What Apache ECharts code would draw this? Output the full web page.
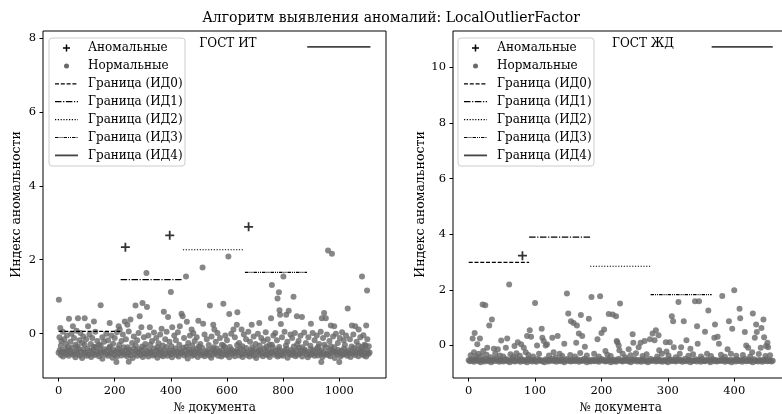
<!DOCTYPE html>
<html>
<head>
<meta charset="utf-8">
<title>LocalOutlierFactor</title>
<script src="https://cdn.jsdelivr.net/npm/echarts@6/dist/echarts.min.js"></script>
<style>
  html, body { margin: 0; padding: 0; background: #fff; }
  #chart { width: 782px; height: 414px; }
</style>
</head>
<body>
<div id="chart"></div>
<script>
const FONT = '"DejaVu Serif", "Liberation Serif", serif';

const chartTitle = "Алгоритм выявления аномалий: LocalOutlierFactor";
const panelTitles = ["ГОСТ ИТ", "ГОСТ ЖД"];
const xName = "№ документа";
const yName = "Индекс аномальности";
const legendNames = ["Аномальные", "Нормальные", "Граница (ИД0)", "Граница (ИД1)",
  "Граница (ИД2)", "Граница (ИД3)", "Граница (ИД4)"];

// ---- ГОСТ ИТ ----
const itXTicks = [0, 200, 400, 600, 800, 1000];
const itYTicks = [0, 2, 4, 6, 8];
const itAnomalies = [[238, 2.34], [396, 2.66], [677, 2.89]];
// [from doc, to doc, threshold] for ИД0..ИД4
const itBounds = [[0, 220, 0.06], [221, 438, 1.46], [443, 660, 2.27], [664, 885, 1.66], [886, 1111, 7.76]];
// dense band, one value every itBandStep documents
const itBandStep = 4;
const itBand = [
  -0.52,-0.45,-0.58,-0.48,-0.62,-0.50,-0.42,-0.56,-0.47,-0.60,
  -0.44,-0.53,-0.38,-0.57,-0.50,-0.64,-0.46,-0.55,-0.41,-0.59,
  -0.49,-0.66,-0.43,-0.54,-0.51,-0.60,-0.40,-0.57,-0.47,-0.63,
  -0.52,-0.44,-0.58,-0.36,-0.55,-0.48,-0.61,-0.45,-0.53,-0.68,
  -0.50,-0.42,-0.56,-0.47,-0.60,-0.39,-0.54,-0.50,-0.65,-0.44,
  -0.57,-0.48,-0.62,-0.41,-0.53,-0.46,-0.59,-0.50,-0.37,-0.56,
  -0.45,-0.61,-0.52,-0.43,-0.58,-0.49,-0.66,-0.40,-0.55,-0.47,
  -0.60,-0.50,-0.42,-0.57,-0.46,-0.63,-0.53,-0.38,-0.56,-0.48,
  -0.62,-0.44,-0.54,-0.50,-0.59,-0.41,-0.57,-0.47,-0.65,-0.52,
  -0.43,-0.58,-0.49,-0.61,-0.45,-0.55,-0.36,-0.60,-0.50,-0.46,
  -0.56,-0.64,-0.47,-0.52,-0.40,-0.58,-0.49,-0.62,-0.44,-0.54,
  -0.51,-0.38,-0.59,-0.46,-0.55,-0.67,-0.43,-0.53,-0.48,-0.60,
  -0.45,-0.57,-0.50,-0.41,-0.63,-0.52,-0.47,-0.58,-0.39,-0.55,
  -0.61,-0.48,-0.54,-0.44,-0.59,-0.50,-0.65,-0.42,-0.56,-0.49,
  -0.53,-0.40,-0.60,-0.47,-0.52,-0.62,-0.45,-0.57,-0.37,-0.51,
  -0.58,-0.46,-0.64,-0.50,-0.43,-0.55,-0.48,-0.61,-0.52,-0.44,
  -0.49,-0.59,-0.41,-0.56,-0.63,-0.47,-0.53,-0.39,-0.58,-0.50,
  -0.62,-0.45,-0.55,-0.48,-0.60,-0.42,-0.66,-0.51,-0.46,-0.57,
  -0.44,-0.53,-0.61,-0.40,-0.56,-0.49,-0.58,-0.45,-0.63,-0.52,
  -0.50,-0.38,-0.57,-0.47,-0.54,-0.62,-0.43,-0.59,-0.48,-0.55,
  -0.60,-0.46,-0.52,-0.41,-0.65,-0.50,-0.56,-0.44,-0.58,-0.49,
  -0.53,-0.61,-0.45,-0.57,-0.39,-0.54,-0.48,-0.62,-0.51,-0.43,
  -0.47,-0.56,-0.64,-0.50,-0.58,-0.42,-0.55,-0.46,-0.60,-0.52,
  -0.40,-0.59,-0.49,-0.55,-0.45,-0.63,-0.51,-0.57,-0.37,-0.54,
  -0.58,-0.47,-0.61,-0.43,-0.52,-0.48,-0.66,-0.50,-0.56,-0.44,
  -0.51,-0.62,-0.46,-0.57,-0.41,-0.55,-0.49,-0.60,-0.45,-0.53,
  -0.63,-0.48,-0.54,-0.39,-0.58,-0.50,-0.44,-0.61,-0.52,-0.47,
  -0.56,-0.43,-0.59,-0.50,-0.62,-0.46,-0.55,-0.51
];
// normal documents standing out of the band
const itScatter = [
  [1,0.92],[6,0.15],[37,0.4],[51,0.2],[69,0.42],[93,0.42],[105,0.2],[126,0.33],[150,0.77],[182,0.29],
  [214,0.2],[218,0.11],[236,0.33],[245,0.24],[256,0.38],[274,0.76],[289,0.47],[295,0.17],[299,0.83],[313,1.64],
  [315,0.72],[325,0.17],[367,0.13],[375,0.59],[390,0.45],[400,1.13],[405,0.17],[432,0.2],[438,0.54],[442,0.47],
  [454,1.55],[457,0.32],[474,0.11],[498,0.35],[513,1.79],[515,0.27],[539,0.76],[551,0.24],[555,0.11],[587,0.81],
  [605,2.09],[608,0.53],[623,0.11],[635,0.24],[637,0.58],[652,0.11],[688,0.24],[715,0.29],[757,0.42],[760,1.32],
  [780,0.95],[785,1.12],[787,0.63],[789,0.51],[792,0.26],[801,1.55],[811,0.51],[820,0.62],[837,1.0],[849,0.47],
  [867,0.45],[899,0.27],[938,0.42],[946,0.56],[952,0.42],[960,2.25],[970,0.22],[974,2.16],[982,0.2],[1030,0.68],
  [1045,0.22],[1057,0.2],[1069,0.11],[1081,1.55],[1096,0.22],[1099,1.17],
  [206,-0.77],[250,-0.76],[936,-0.77],[1000,-0.77]
];
const itLow = [
  [3,-0.1],[10,-0.2],[15,0.05],[20,-0.15],[26,-0.28],[30,-0.05],[42,-0.22],[46,0.0],[55,-0.12],[60,-0.3],
  [64,0.08],[74,-0.18],[78,0.02],[84,-0.25],[88,-0.08],[98,-0.15],[110,-0.02],[115,-0.28],[120,-0.12],[131,0.05],
  [138,-0.2],[144,-0.3],[156,-0.1],[162,-0.22],[170,0.0],[176,-0.18],[188,-0.05],[194,-0.27],[200,-0.12],[208,0.04],
  [224,-0.2],[229,-0.02],[240,-0.15],[250,0.06],[262,-0.25],[268,-0.08],[280,-0.18],[285,0.02],[304,-0.1],[309,-0.28],
  [320,-0.05],[333,-0.2],[340,0.03],[348,-0.12],[356,-0.26],[362,-0.02],[380,-0.15],[385,0.05],[395,-0.22],[412,-0.05],
  [418,-0.18],[425,0.04],[447,-0.12],[462,-0.25],[468,-0.05],[480,0.02],[485,-0.2],[492,-0.1],[505,-0.28],[520,-0.02],
  [528,-0.15],[545,-0.08],[560,-0.22],[566,0.02],[575,-0.12],[582,-0.3],[594,-0.05],[600,-0.18],[615,0.0],[628,-0.1],
  [643,-0.25],[660,-0.02],[668,-0.15],[676,0.05],[682,-0.22],[695,-0.08],[702,-0.28],[710,0.0],[722,-0.12],[730,-0.2],
  [738,0.04],[745,-0.15],[752,-0.3],[765,-0.05],[772,0.02],[778,-0.18],[796,-0.1],[805,0.05],[815,-0.22],[826,-0.02],
  [832,-0.12],[842,0.02],[855,-0.2],[862,-0.06],[875,0.03],[881,-0.25],[890,-0.1],[905,0.02],[912,-0.18],[920,-0.05],
  [928,-0.28],[934,0.05],[942,-0.12],[956,-0.02],[965,-0.2],[978,-0.08],[988,0.0],[995,-0.25],[1002,-0.12],[1010,0.04],
  [1016,-0.18],[1024,-0.05],[1038,-0.15],[1050,-0.02],[1062,-0.22],[1075,-0.1],[1086,-0.04],[1090,-0.3],[1100,-0.15],[1105,-0.34],
  [8,-0.33],[34,-0.36],[67,-0.34],[93,-0.3],[126,-0.36],[150,-0.33],[183,-0.35],[216,-0.31],[246,-0.37],[275,-0.32],
  [298,-0.35],[327,-0.3],[352,-0.37],[371,-0.32],[402,-0.34],[430,-0.3],[455,-0.36],[476,-0.32],[500,-0.35],[535,-0.31],
  [553,-0.37],[588,-0.33],[610,-0.36],[636,-0.31],[655,-0.34],[690,-0.37],[716,-0.32],[741,-0.35],[760,-0.3],[786,-0.36],
  [810,-0.32],[838,-0.35],[850,-0.29],[868,-0.37],[897,-0.33],[925,-0.36],[947,-0.3],[970,-0.34],[983,-0.37],[1020,-0.31],
  [1044,-0.35],[1068,-0.32],[1081,-0.36],[1094,-0.33]
];

// ---- ГОСТ ЖД ----
const zdXTicks = [0, 100, 200, 300, 400];
const zdYTicks = [0, 2, 4, 6, 8, 10];
const zdAnomalies = [[81, 3.23]];
const zdBounds = [[0, 91, 2.99], [91, 183, 3.9], [183, 275, 2.85], [274, 366, 1.83], [366, 458, 10.74]];
const zdBandStep = 2;
const zdBand = [
  -0.53,-0.57,-0.50,-0.55,-0.59,-0.52,-0.48,-0.56,-0.54,-0.60,
  -0.51,-0.55,-0.58,-0.49,-0.53,-0.57,-0.52,-0.60,-0.55,-0.50,
  -0.56,-0.47,-0.54,-0.59,-0.51,-0.55,-0.58,-0.53,-0.49,-0.57,
  -0.52,-0.60,-0.54,-0.50,-0.56,-0.58,-0.47,-0.53,-0.55,-0.59,
  -0.50,-0.54,-0.57,-0.52,-0.60,-0.48,-0.55,-0.53,-0.58,-0.51,
  -0.56,-0.59,-0.49,-0.54,-0.52,-0.57,-0.55,-0.60,-0.50,-0.53,
  -0.58,-0.51,-0.55,-0.48,-0.56,-0.53,-0.59,-0.52,-0.54,-0.57,
  -0.50,-0.55,-0.60,-0.53,-0.49,-0.56,-0.52,-0.58,-0.54,-0.51,
  -0.57,-0.53,-0.50,-0.59,-0.55,-0.52,-0.56,-0.48,-0.54,-0.60,
  -0.52,-0.56,-0.58,-0.51,-0.54,-0.57,-0.50,-0.55,-0.59,-0.53,
  -0.49,-0.55,-0.52,-0.58,-0.56,-0.50,-0.54,-0.60,-0.53,-0.57,
  -0.51,-0.59,-0.55,-0.48,-0.53,-0.56,-0.58,-0.52,-0.55,-0.50,
  -0.57,-0.54,-0.60,-0.51,-0.56,-0.49,-0.53,-0.58,-0.52,-0.55,
  -0.59,-0.50,-0.54,-0.57,-0.52,-0.60,-0.55,-0.48,-0.56,-0.53,
  -0.51,-0.58,-0.55,-0.50,-0.57,-0.53,-0.59,-0.54,-0.52,-0.56,
  -0.60,-0.49,-0.54,-0.57,-0.51,-0.55,-0.58,-0.53,-0.50,-0.56,
  -0.52,-0.59,-0.55,-0.48,-0.57,-0.54,-0.51,-0.60,-0.53,-0.56,
  -0.55,-0.50,-0.58,-0.52,-0.54,-0.59,-0.49,-0.56,-0.57,-0.53,
  -0.51,-0.55,-0.60,-0.54,-0.50,-0.57,-0.52,-0.58,-0.55,-0.53,
  -0.56,-0.49,-0.54,-0.59,-0.52,-0.55,-0.57,-0.51,-0.60,-0.54,
  -0.53,-0.58,-0.50,-0.56,-0.55,-0.52,-0.59,-0.54,-0.48,-0.57,
  -0.55,-0.51,-0.57,-0.53,-0.60,-0.50,-0.56,-0.54,-0.58,-0.52,
  -0.54,-0.59,-0.52,-0.56,-0.50,-0.57,-0.55,-0.53,-0.58,-0.55
];
const zdScatter = [
  [6,0.25],[8,-0.24],[9,0.45],[13,0.04],[17,0.25],[21,1.47],[22,-0.2],[25,1.45],[28,-0.08],[31,0.72],
  [35,0.93],[38,-0.12],[44,-0.14],[49,0.18],[56,-0.08],[58,0.25],[61,2.19],[69,-0.02],[74,0.12],[79,0.04],
  [83,-0.08],[86,-0.24],[88,0.34],[92,0.55],[94,0.31],[100,1.53],[103,0.0],[110,0.6],[111,0.28],[113,0.16],
  [116,0.0],[118,0.04],[126,0.28],[128,-0.24],[134,0.34],[144,0.06],[148,1.87],[150,1.15],[154,0.87],[158,0.81],
  [162,0.1],[163,0.72],[166,0.43],[169,1.1],[171,0.34],[175,-0.05],[181,0.96],[185,1.74],[194,0.22],[198,1.77],
  [200,0.45],[204,0.57],[206,-0.2],[211,1.13],[217,1.11],[222,1.05],[223,0.16],[224,0.12],[226,0.0],[227,-0.17],
  [228,1.51],[241,-0.14],[247,0.4],[248,0.1],[256,-0.06],[259,0.1],[265,0.16],[273,0.22],[277,0.43],[280,0.19],
  [282,0.55],[286,0.37],[287,-0.17],[297,0.12],[298,-0.22],[303,0.12],[306,1.05],[308,0.87],[309,-0.06],[316,1.56],
  [320,-0.06],[324,0.87],[328,0.19],[334,-0.12],[341,1.59],[344,0.69],[345,0.06],[347,1.59],[356,0.49],[361,1.26],
  [370,0.28],[371,0.75],[375,0.31],[377,0.06],[382,1.78],[390,-0.14],[392,0.87],[397,0.6],[400,1.99],[408,1.32],
  [409,0.98],[416,0.48],[418,0.0],[421,-0.08],[427,-0.24],[428,1.15],[431,0.28],[433,0.75],[434,0.48],[440,-0.08],
  [441,0.63],[444,0.93],[445,0.3],[448,-0.02],[450,0.1],[451,-0.06]
];
const zdLow = [
  [3,-0.35],[11,-0.4],[15,-0.3],[19,-0.38],[27,-0.33],[33,-0.42],[40,-0.3],[47,-0.36],[52,-0.4],[63,-0.32],
  [67,-0.41],[72,-0.28],[77,-0.37],[90,-0.34],[97,-0.4],[106,-0.3],[121,-0.36],[131,-0.42],[137,-0.3],[141,-0.38],
  [153,-0.34],[160,-0.4],[168,-0.27],[178,-0.36],[189,-0.3],[196,-0.4],[209,-0.33],[214,-0.38],[232,-0.3],[236,-0.42],
  [244,-0.35],[252,-0.28],[262,-0.38],[268,-0.32],[284,-0.4],[291,-0.3],[301,-0.36],[312,-0.42],[318,-0.3],[331,-0.37],
  [338,-0.32],[350,-0.4],[359,-0.3],[365,-0.38],[380,-0.33],[386,-0.41],[395,-0.3],[403,-0.37],[413,-0.34],[424,-0.4],
  [437,-0.31],[447,-0.38],[454,-0.35]
];

// line styles of the boundaries ИД0..ИД4
const boundStyles = [
  { type: [4, 1.8], width: 1.2, color: "#000" },
  { type: [6.5, 1.6, 1.2, 1.6], width: 1.2, color: "#000" },
  { type: [1.2, 1.6], width: 1.2, color: "#000" },
  { type: [3.5, 1, 1, 1, 1, 1], width: 1.2, color: "#000" },
  { type: "solid", width: 1.8, color: "#444" }
];
const NORMAL_COLOR = "#696969";
const PLUS = "path://M4,0H6V4H10V6H6V10H4V6H0V4H4Z";

function bandPoints(values, step) {
  return values.map((v, i) => [i * step, v]);
}

function panelSeries(idx, band, step, scatter, low, anomalies, bounds) {
  const series = [
    {
      name: legendNames[1], type: "scatter", xAxisIndex: idx, yAxisIndex: idx,
      symbol: "circle", symbolSize: 6, itemStyle: { color: NORMAL_COLOR },
      data: bandPoints(band, step).concat(low, scatter), z: 2
    },
    {
      name: legendNames[0], type: "scatter", xAxisIndex: idx, yAxisIndex: idx,
      symbol: PLUS, symbolSize: 9, itemStyle: { color: "#000" },
      data: anomalies, z: 4
    }
  ];
  bounds.forEach((b, i) => {
    series.push({
      name: legendNames[i + 2], type: "line", xAxisIndex: idx, yAxisIndex: idx,
      symbol: "none", silent: true, z: 3,
      lineStyle: boundStyles[i],
      data: [[b[0], b[2]], [b[1], b[2]]]
    });
  });
  return series;
}

function xAxisFor(idx, min, max, ticks) {
  return {
    type: "value", gridIndex: idx, min: min, max: max,
    name: xName, nameLocation: "middle", nameGap: 23,
    nameTextStyle: { fontFamily: FONT, fontSize: 12, color: "#000" },
    axisLine: { show: false, onZero: false },
    axisTick: { show: true, length: 3.5, customValues: ticks, lineStyle: { color: "#000" } },
    axisLabel: { customValues: ticks, margin: 7, fontFamily: FONT, fontSize: 11.5, color: "#000",
      formatter: (v) => String(v) },
    splitLine: { show: false }
  };
}

function yAxisFor(idx, min, max, ticks, gap) {
  return {
    type: "value", gridIndex: idx, min: min, max: max,
    name: yName, nameLocation: "middle", nameGap: gap, nameRotate: 90,
    nameTextStyle: { fontFamily: FONT, fontSize: 12.5, color: "#000" },
    axisLine: { show: false, onZero: false },
    axisTick: { show: true, length: 3.5, customValues: ticks, lineStyle: { color: "#000" } },
    axisLabel: { customValues: ticks, margin: 7, fontFamily: FONT, fontSize: 11.5, color: "#000",
      formatter: (v) => String(v) },
    splitLine: { show: false }
  };
}

// legend box drawn by hand so the dash patterns match the lines
function legendBox(x0) {
  const els = [{
    type: "rect", z: 10,
    shape: { x: x0, y: 38, width: 136, height: 128, r: 3 },
    style: { fill: "rgba(255,255,255,0.85)", stroke: "#cccccc", lineWidth: 1 }
  }];
  const hx1 = x0 + 6, hx2 = x0 + 29, hc = x0 + 17.5;
  legendNames.forEach((name, i) => {
    const y = 48 + i * 17.9;
    if (i === 0) {
      els.push({ type: "line", z: 11, shape: { x1: hc - 3.5, y1: y, x2: hc + 3.5, y2: y }, style: { stroke: "#000", lineWidth: 1.5 } });
      els.push({ type: "line", z: 11, shape: { x1: hc, y1: y - 3.5, x2: hc, y2: y + 3.5 }, style: { stroke: "#000", lineWidth: 1.5 } });
    } else if (i === 1) {
      els.push({ type: "circle", z: 11, shape: { cx: hc, cy: y, r: 2.5 }, style: { fill: NORMAL_COLOR } });
    } else {
      const st = boundStyles[i - 2];
      els.push({
        type: "line", z: 11, shape: { x1: hx1, y1: y, x2: hx2, y2: y },
        style: { stroke: st.color, lineWidth: st.width, lineDash: Array.isArray(st.type) ? st.type : null }
      });
    }
    els.push({
      type: "text", z: 11,
      style: { text: name, x: x0 + 39, y: y, font: "12px " + FONT, fill: "#000", verticalAlign: "middle" }
    });
  });
  return els;
}

const chart = echarts.init(document.getElementById("chart"));

const option = {
  animation: false,
  backgroundColor: "#fff",
  title: {
    text: chartTitle, left: "center", top: 6,
    textStyle: { fontFamily: FONT, fontSize: 14, fontWeight: "normal", color: "#000" }
  },
  grid: [
    { left: 43, top: 31, width: 343, height: 347, show: true, borderColor: "#000", borderWidth: 1, outerBoundsMode: "none" },
    { left: 453, top: 31, width: 335, height: 347, show: true, borderColor: "#000", borderWidth: 1, outerBoundsMode: "none" }
  ],
  xAxis: [
    xAxisFor(0, -55.5, 1166.5, itXTicks),
    xAxisFor(1, -23.6, 481, zdXTicks)
  ],
  yAxis: [
    yAxisFor(0, -1.2, 8.19, itYTicks, 20),
    yAxisFor(1, -1.17, 11.31, zdYTicks, 24)
  ],
  series: panelSeries(0, itBand, itBandStep, itScatter, itLow, itAnomalies, itBounds)
    .concat(panelSeries(1, zdBand, zdBandStep, zdScatter, zdLow, zdAnomalies, zdBounds)),
  graphic: legendBox(49).concat(legendBox(458), [
    { type: "text", z: 11, style: { text: panelTitles[0], x: 228, y: 44, font: "12px " + FONT, fill: "#000", align: "center", verticalAlign: "middle" } },
    { type: "text", z: 11, style: { text: panelTitles[1], x: 643, y: 44, font: "12px " + FONT, fill: "#000", align: "center", verticalAlign: "middle" } }
  ])
};

chart.setOption(option);
</script>
</body>
</html>
